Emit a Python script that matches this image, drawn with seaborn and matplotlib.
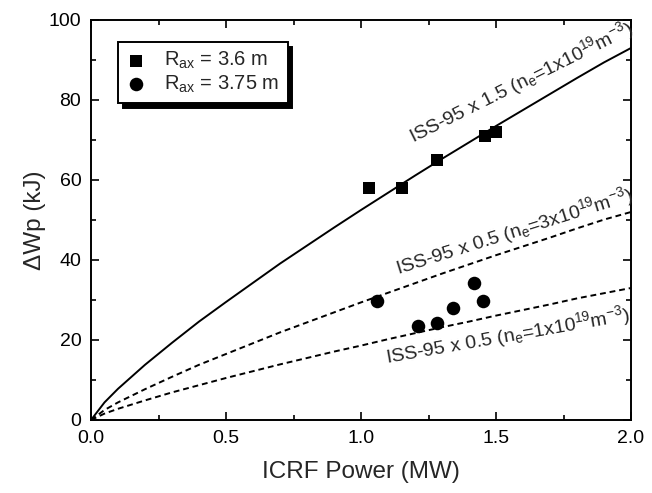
import numpy as np
import pandas as pd
import seaborn as sns
import matplotlib.pyplot as plt

### Data
# measured points
p_36 = [1.03, 1.15, 1.28, 1.46, 1.50]
w_36 = [58.1, 57.9, 65.0, 71.0, 72.1]
p_375 = [1.06, 1.21, 1.28, 1.34, 1.42, 1.45]
w_375 = [29.8, 23.6, 24.3, 27.9, 34.3, 29.8]

# ISS-95 curves, read at fixed powers
p_iss = [0.0, 0.05, 0.1, 0.2, 0.3, 0.4, 0.5, 0.6, 0.7, 0.8, 0.9, 1.0,
         1.1, 1.2, 1.3, 1.4, 1.5, 1.6, 1.7, 1.8, 1.9, 2.0]
w_iss_15 = [0.0, 4.4, 7.8, 13.8, 19.3, 24.6, 29.5, 34.3, 39.1, 43.6, 48.1, 52.5,
            56.8, 61.1, 65.3, 69.4, 73.5, 77.5, 81.5, 85.5, 89.4, 93.0]
w_iss_05_n3 = [0.0, 2.5, 4.4, 7.7, 10.8, 13.8, 16.5, 19.2, 21.9, 24.4, 26.9, 29.4,
               31.8, 34.2, 36.6, 38.9, 41.2, 43.4, 45.6, 47.9, 50.1, 52.0]
w_iss_05_n1 = [0.0, 1.6, 2.8, 4.9, 6.9, 8.7, 10.5, 12.2, 13.9, 15.5, 17.1, 18.6,
               20.2, 21.7, 23.2, 24.6, 26.1, 27.5, 28.9, 30.4, 31.7, 33.0]

legend_labels = [r"R$_{\mathregular{ax}}$ = 3.6 m", r"R$_{\mathregular{ax}}$ = 3.75 m"]
curve_labels = [
    r"ISS-95 x 1.5 (n$_{\mathregular{e}}$=1x10$^{\mathregular{19}}$m$^{\mathregular{-3}}$)",
    r"ISS-95 x 0.5 (n$_{\mathregular{e}}$=3x10$^{\mathregular{19}}$m$^{\mathregular{-3}}$)",
    r"ISS-95 x 0.5 (n$_{\mathregular{e}}$=1x10$^{\mathregular{19}}$m$^{\mathregular{-3}}$)",
]

sns.set_style("ticks")
plt.rcParams["font.family"] = ["Liberation Sans", "DejaVu Sans"]
plt.rcParams["mathtext.fontset"] = "custom"
plt.rcParams["mathtext.rm"] = "Liberation Sans"
plt.rcParams["mathtext.it"] = "Liberation Sans:italic"
plt.rcParams["axes.linewidth"] = 1.4

fig = plt.figure(figsize=(6.52, 4.93), dpi=100)
ax = fig.add_axes([91 / 652, 1 - 420 / 493, 540 / 652, 400 / 493])

sns.lineplot(x=p_iss, y=w_iss_15, ax=ax, color="k", lw=1.4)
sns.lineplot(x=p_iss, y=w_iss_05_n3, ax=ax, color="k", lw=1.4)
sns.lineplot(x=p_iss, y=w_iss_05_n1, ax=ax, color="k", lw=1.4)
ax.lines[1].set_dashes((3, 2))
ax.lines[2].set_dashes((3, 2))

sns.scatterplot(x=p_36, y=w_36, ax=ax, marker="s", s=80, color="k",
                linewidth=0, label=legend_labels[0], zorder=5)
sns.scatterplot(x=p_375, y=w_375, ax=ax, marker="o", s=95, color="k",
                linewidth=0, label=legend_labels[1], zorder=5)

ax.set_xlim(0, 2.0)
ax.set_ylim(0, 100)
ax.set_xticks([0, 0.5, 1.0, 1.5, 2.0])
ax.set_xticks([0.25, 0.75, 1.25, 1.75], minor=True)
ax.set_yticks([0, 20, 40, 60, 80, 100])
ax.set_yticks([10, 30, 50, 70, 90], minor=True)
ax.xaxis.set_major_formatter(plt.FormatStrFormatter("%.1f"))
ax.tick_params(which="both", direction="in", top=True, right=True,
               width=1.2, labelsize=14, color="k", labelcolor="k")
ax.tick_params(which="major", length=6, pad=7)
ax.tick_params(which="minor", length=3.5)
for sp in ax.spines.values():
    sp.set_visible(True)
    sp.set_color("k")

ax.set_xlabel("ICRF Power (MW)", fontsize=17.5, labelpad=10)
ax.set_ylabel("\u0394Wp (kJ)", fontsize=17.5, labelpad=2)

ax.text(1.193, 69.3, curve_labels[0], rotation=26.5, rotation_mode="anchor",
        ha="left", va="baseline", fontsize=14)
ax.text(1.137, 36.3, curve_labels[1], rotation=17.5, rotation_mode="anchor",
        ha="left", va="baseline", fontsize=14)
ax.text(1.095, 14.3, curve_labels[2], rotation=10, rotation_mode="anchor",
        ha="left", va="baseline", fontsize=14)

leg = ax.legend(loc="upper left", bbox_to_anchor=(0.05, 0.945), borderaxespad=0,
                fontsize=14.5, frameon=True, fancybox=False, edgecolor="k",
                framealpha=1, handlelength=1.0, handletextpad=0.9,
                borderpad=0.4, labelspacing=0.1,
                shadow={"ox": 3.5, "oy": -3.5, "color": "k", "alpha": 1})
leg.get_frame().set_linewidth(1.4)

fig.savefig("out.png", dpi=100)
